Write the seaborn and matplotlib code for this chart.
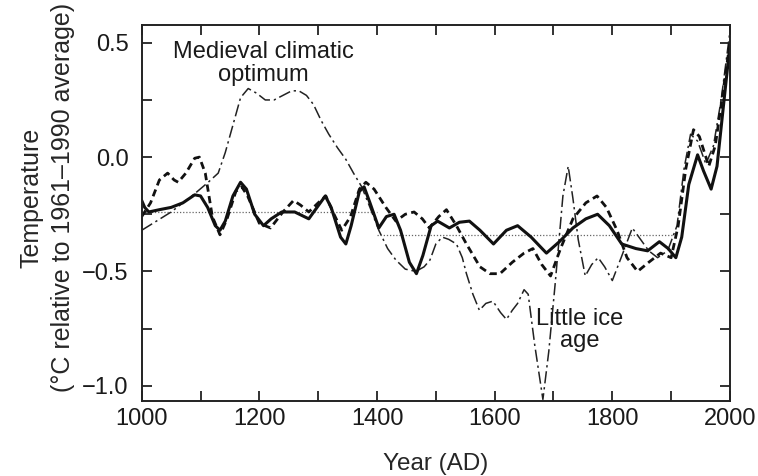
import pandas as pd
import matplotlib
matplotlib.use("Agg")
from matplotlib import pyplot as plt
from matplotlib.ticker import MultipleLocator
import seaborn as sns

# solid reconstruction
solid_year = [1000, 1005, 1012, 1030, 1050, 1070, 1090, 1100, 1112, 1125, 1133, 1142,
              1155, 1168, 1178, 1192, 1207, 1220, 1238, 1260, 1284, 1298, 1312, 1322,
              1338, 1347, 1356, 1370, 1378, 1388, 1403, 1416, 1429, 1440, 1455, 1467,
              1478, 1492, 1503, 1523, 1540, 1557, 1575, 1598, 1620, 1639, 1662, 1688,
              1710, 1733, 1755, 1775, 1795, 1816, 1840, 1860, 1880, 1895, 1908, 1918,
              1930, 1945, 1955, 1968, 1978, 1990, 2000]
solid_temp = [-0.19, -0.22, -0.24, -0.23, -0.22, -0.20, -0.165, -0.17, -0.22, -0.30, -0.32, -0.28,
              -0.17, -0.11, -0.14, -0.25, -0.30, -0.27, -0.24, -0.24, -0.27, -0.22, -0.17, -0.22,
              -0.35, -0.38, -0.30, -0.15, -0.13, -0.20, -0.31, -0.26, -0.25, -0.32, -0.46, -0.51,
              -0.43, -0.30, -0.28, -0.31, -0.285, -0.28, -0.32, -0.38, -0.32, -0.30, -0.35, -0.42,
              -0.37, -0.31, -0.27, -0.25, -0.30, -0.38, -0.40, -0.41, -0.37, -0.40, -0.44, -0.35,
              -0.12, 0.01, -0.06, -0.14, -0.04, 0.25, 0.49]

# dashed reconstruction
dashed_year = [1000, 1015, 1030, 1044, 1055, 1062, 1075, 1090, 1098, 1108, 1120, 1133,
               1145, 1160, 1170, 1180, 1200, 1219, 1240, 1258, 1270, 1284, 1300, 1313,
               1325, 1340, 1355, 1370, 1381, 1395, 1415, 1432, 1448, 1463, 1477, 1489,
               1505, 1518, 1535, 1552, 1575, 1592, 1609, 1630, 1650, 1665, 1680, 1695,
               1712, 1733, 1755, 1774, 1790, 1808, 1825, 1843, 1862, 1882, 1900, 1912,
               1925, 1938, 1948, 1964, 1975, 1988, 2000]
dashed_temp = [-0.26, -0.20, -0.10, -0.07, -0.10, -0.11, -0.07, -0.005, 0.00, -0.07, -0.26, -0.34,
               -0.27, -0.15, -0.13, -0.17, -0.29, -0.31, -0.24, -0.19, -0.21, -0.24, -0.20, -0.17,
               -0.24, -0.32, -0.26, -0.14, -0.11, -0.14, -0.22, -0.28, -0.25, -0.24, -0.27, -0.31,
               -0.26, -0.23, -0.30, -0.38, -0.48, -0.51, -0.51, -0.46, -0.42, -0.40, -0.47, -0.52,
               -0.40, -0.27, -0.20, -0.17, -0.22, -0.32, -0.44, -0.50, -0.46, -0.42, -0.44, -0.30,
               -0.05, 0.12, 0.09, -0.04, 0.05, 0.28, 0.50]

# dash-dot reconstruction
dashdot_year = [1000, 1025, 1050, 1070, 1090, 1113, 1130, 1142, 1155, 1168, 1181, 1195,
                1210, 1225, 1240, 1255, 1267, 1280, 1292, 1305, 1318, 1333, 1347, 1360,
                1374, 1388, 1403, 1418, 1432, 1448, 1466, 1480, 1490, 1500, 1511, 1522,
                1535, 1545, 1552, 1563, 1574, 1585, 1597, 1610, 1620, 1630, 1639, 1650,
                1657, 1668, 1682, 1692, 1703, 1716, 1725, 1733, 1742, 1754, 1765, 1776,
                1787, 1800, 1815, 1834, 1848, 1862, 1877, 1894, 1910, 1922, 1933, 1945,
                1959, 1972, 1985, 2000]
dashdot_temp = [-0.32, -0.28, -0.24, -0.20, -0.16, -0.11, -0.07, 0.02, 0.14, 0.26, 0.30, 0.28,
                0.25, 0.25, 0.27, 0.29, 0.29, 0.27, 0.23, 0.16, 0.10, 0.04, -0.01, -0.07,
                -0.13, -0.22, -0.32, -0.40, -0.45, -0.49, -0.50, -0.48, -0.45, -0.38, -0.35, -0.36,
                -0.38, -0.44, -0.51, -0.60, -0.67, -0.64, -0.63, -0.68, -0.71, -0.67, -0.64, -0.58,
                -0.60, -0.82, -1.06, -0.85, -0.55, -0.17, -0.04, -0.18, -0.36, -0.52, -0.47, -0.44,
                -0.48, -0.54, -0.44, -0.31, -0.36, -0.41, -0.44, -0.41, -0.30, -0.05, 0.10, 0.07,
                -0.03, 0.05, 0.25, 0.55]

# dotted reference levels (two periods)
ref1_year = [1000, 1400]
ref1_temp = [-0.24, -0.24]
ref2_year = [1400, 1905]
ref2_temp = [-0.34, -0.34]

sns.set_style("ticks")
plt.rcParams["font.family"] = ["Liberation Sans", "DejaVu Sans"]
plt.rcParams["text.color"] = "#1a1a1a"

fig = plt.figure(figsize=(7.58, 4.76), dpi=100)
ax = fig.add_axes([0.187, 0.158, 0.776, 0.79])

for yrs, tmp in [(ref1_year, ref1_temp), (ref2_year, ref2_temp)]:
    sns.lineplot(x=yrs, y=tmp, ax=ax, color="#666666", lw=0.9,
                 linestyle=(0, (1, 1.5)), estimator=None)
sns.lineplot(x=dashdot_year, y=dashdot_temp, ax=ax, color="#222222", lw=1.1,
             linestyle=(0, (8, 2.5, 1.5, 2.5)), estimator=None)
sns.lineplot(x=dashed_year, y=dashed_temp, ax=ax, color="#111111", lw=2.0,
             linestyle=(0, (2.6, 1.6)), estimator=None)
sns.lineplot(x=solid_year, y=solid_temp, ax=ax, color="#111111", lw=2.2,
             estimator=None)

ax.set_xlim(1000, 2000)
ax.set_ylim(-1.066, 0.579)
ax.xaxis.set_major_locator(MultipleLocator(200))
ax.xaxis.set_minor_locator(MultipleLocator(100))
ax.yaxis.set_major_locator(MultipleLocator(0.5))
ax.yaxis.set_minor_locator(MultipleLocator(0.25))
ax.yaxis.set_major_formatter(lambda v, p: f"{v:.1f}".replace("-", "\u2212"))
ax.tick_params(which="both", direction="in", top=True, right=True,
               length=7, width=1.3, labelsize=17, color="#222222",
               labelcolor="#1a1a1a")
ax.tick_params(axis="x", pad=5)
ax.tick_params(axis="y", pad=9.5)
for s in ax.spines.values():
    s.set_linewidth(1.4)
    s.set_color("#222222")

ax.set_xlabel("Year (AD)", fontsize=17.5, labelpad=17)
ax.set_ylabel("Temperature\n(\u00b0C relative to 1961\u20131990 average)", fontsize=18,
              labelpad=5, linespacing=1.4)
ax.yaxis.label.set_y(0.54)

ax.text(1207, 0.41, "Medieval climatic\noptimum", ha="center", va="center",
        fontsize=17, linespacing=1.1)
ax.text(1745, -0.755, "Little ice\nage", ha="center", va="center",
        fontsize=17, linespacing=1.0)

fig.savefig("out.png", dpi=100)
